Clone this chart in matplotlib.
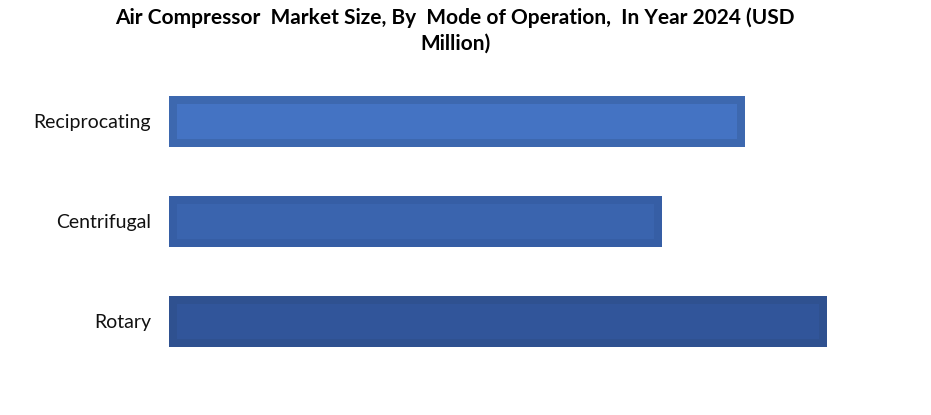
import matplotlib
matplotlib.use("Agg")
import matplotlib.pyplot as plt

categories = ["Reciprocating", "Centrifugal", "Rotary"]
values = [576, 493, 658]
outer_colors = ["#3D68AF", "#365EA5", "#2F5190"]
inner_colors = ["#4473C3", "#3A64AE", "#31559A"]
title = "Air Compressor  Market Size, By  Mode of Operation,  In Year 2024 (USD\nMillion)"

plt.rcParams['font.family'] = ['Lato', 'DejaVu Sans']

fig = plt.figure(figsize=(9.31, 4.15), dpi=100)
ax = fig.add_axes([169/931, 1-371/415, 700/931, 300/415])

pos = list(range(len(categories)))
bar_h = 0.51
ax.barh(pos, values, height=bar_h, color=outer_colors, linewidth=0)
inset_x = 8
inset_y = 0.08
ax.barh(pos, [v - 2*inset_x for v in values], left=inset_x, height=bar_h - 2*inset_y,
        color=inner_colors, linewidth=0)

ax.set_xlim(0, 700)
ax.set_ylim(2.5, -0.5)
ax.set_yticks(pos)
ax.set_yticklabels(categories, fontsize=14, color="#111111")
ax.tick_params(axis='y', length=0, pad=13)
ax.set_xticks([])
for s in ax.spines.values():
    s.set_visible(False)

fig.text(455/931, 1-31/415, title, ha='center', va='center', fontsize=15,
         fontweight='bold', linespacing=1.35, color="black")

fig.savefig("out.png", dpi=100)
